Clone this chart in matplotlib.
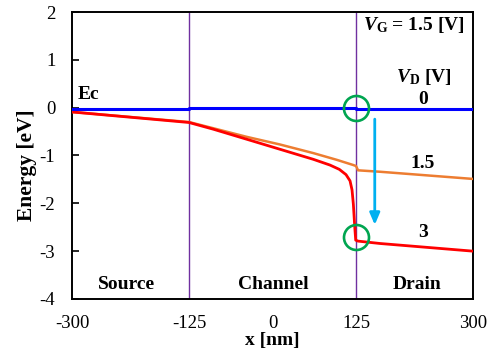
import matplotlib
matplotlib.use("Agg")
import matplotlib.pyplot as plt

plt.rcParams['font.family'] = ['Liberation Serif', 'DejaVu Serif']
plt.rcParams['mathtext.fontset'] = 'custom'
plt.rcParams['mathtext.rm'] = 'Liberation Serif:bold'
plt.rcParams['mathtext.it'] = 'Liberation Serif:bold:italic'
plt.rcParams['mathtext.bf'] = 'Liberation Serif:bold'
plt.rcParams['axes.unicode_minus'] = False

# data
x_vd0 = [-300, -125, -125, 125, 125, 300]
e_vd0 = [-0.03, -0.03, 0.0, 0.0, -0.02, -0.02]

x_vd15 = [-300, -125, -88.6, -38.6, 11.2, 61.1, 96, 121, 125, 128, 161, 300]
e_vd15 = [-0.09, -0.30, -0.43, -0.61, -0.77, -0.95, -1.09, -1.20, -1.22, -1.31, -1.34, -1.49]

x_vd3 = [-300, -125, -88.6, -38.6, 11.2, 61.1, 86, 100, 110, 116, 119, 121, 123, 124.5, 128, 161, 300]
e_vd3 = [-0.09, -0.31, -0.45, -0.66, -0.87, -1.08, -1.20, -1.29, -1.40, -1.53, -1.72, -2.02, -2.48, -2.77, -2.79, -2.84, -3.0]

boundaries = [-125, 125]
xticks = [-300, -125, 0, 125, 300]
yticks = [-4, -3, -2, -1, 0, 1, 2]
circle_x = [125, 125]
circle_e = [0.0, -2.70]
region_names = ["Source", "Channel", "Drain"]
region_x = [-218, 1, 216]

fig = plt.figure(figsize=(4.89, 3.54), dpi=100)
ax = fig.add_axes([0.1472, 0.1554, 0.8201, 0.8107])

for b in boundaries:
    ax.axvline(b, color='#7030A0', lw=1.0, zorder=1)

ax.plot(x_vd15, e_vd15, color='#ED7D31', lw=1.8, zorder=3)
ax.plot(x_vd3, e_vd3, color='#FF0000', lw=2.0, zorder=4)
ax.plot(x_vd0, e_vd0, color='#0000FF', lw=2.2, zorder=5)

ax.plot(circle_x, circle_e, linestyle='none', marker='o', markersize=18,
        markerfacecolor='none', markeredgecolor='#00A550', markeredgewidth=1.9, zorder=6)

ax.annotate('', xy=(153, -2.45), xytext=(153, -0.24),
            arrowprops=dict(arrowstyle='-|>,head_width=0.3,head_length=0.7',
                            color='#00B0F0', lw=2.0, shrinkA=0, shrinkB=0), zorder=6)

ax.set_xlim(-300, 300)
ax.set_ylim(-4, 2)
ax.set_xticks(xticks)
ax.set_yticks(yticks)
ax.tick_params(axis='x', length=0, labelsize=13.5, pad=11.5)
ax.tick_params(axis='y', direction='in', length=5, width=1.2, labelsize=13.5, pad=12)
for s in ax.spines.values():
    s.set_linewidth(1.4)

ax.set_xlabel('x [nm]', fontsize=14, fontweight='bold', labelpad=0)
ax.set_ylabel('Energy [eV]', fontsize=15.5, fontweight='bold')
ax.yaxis.set_label_coords(-0.088, 0.467)

tk = dict(fontsize=14, fontweight='bold', ha='center', va='center')
ax.text(-291, 0.27, 'Ec', fontsize=14, fontweight='bold', ha='left', va='center')
ax.text(287, 1.73, r'$V_{\rm G}$ = 1.5 [V]', fontsize=14, fontweight='bold', ha='right', va='center')
ax.text(227, 0.64, r'$V_{\rm D}$ [V]', **tk)
ax.text(225, 0.17, '0', **tk)
ax.text(225, -1.16, '1.5', **tk)
ax.text(225, -2.62, '3', **tk)
for name, xr in zip(region_names, region_x):
    ax.text(xr, -3.69, name, **tk)

fig.savefig('out.png', dpi=100)
